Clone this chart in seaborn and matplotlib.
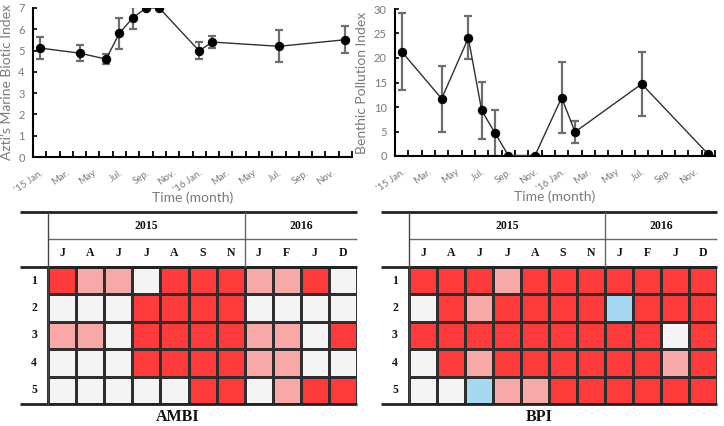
import numpy as np
import pandas as pd
import matplotlib
matplotlib.use('Agg')
import matplotlib.pyplot as plt
import seaborn as sns
from matplotlib.colors import ListedColormap

# ---------------- data ----------------
months_ambi = [0, 3, 5, 6, 7, 8, 9, 12, 13, 18, 23]
ambi_vals = [5.12, 4.88, 4.6, 5.82, 6.53, 7.0, 7.0, 4.99, 5.4, 5.2, 5.51]
ambi_err = [0.53, 0.38, 0.25, 0.73, 0.52, 0, 0, 0.39, 0.27, 0.75, 0.63]

months_bpi = [0, 3, 5, 6, 7, 8, 10, 12, 13, 18, 23]
bpi_vals = [21.3, 11.7, 24.1, 9.3, 4.7, 0.1, 0.1, 11.9, 4.9, 14.7, 0.35]
bpi_err = [7.9, 6.7, 4.4, 5.8, 4.7, 0, 0, 7.3, 2.25, 6.5, 0]

tick_labels = ["\u201915 Jan.", "Mar.", "May", "Jul.", "Sep.", "Nov.",
               "\u201916 Jan.", "Mar.", "May", "Jul.", "Sep.", "Nov."]

col_labels = ['J', 'A', 'J', 'J', 'A', 'S', 'N', 'J', 'F', 'J', 'D']
row_labels = ['1', '2', '3', '4', '5']
years = ['2015', '2016']
# W = good (white), P = pink, R = red, B = blue
ambi_grid = ["RPPWRRRPPRW", "WWWRRRRWWWW", "PPWRRRRPPWR", "WWWRRRRPPWW", "WWWWWRRWPRR"]
bpi_grid = ["RRRPRRRRRRR", "WRPRRRRBRRR", "RRRRRRRRRWR", "WRPRRRRRRPR", "WWBPPRRRRRR"]

# ---------------- style ----------------
sns.set_style('white')
plt.rcParams['font.family'] = ['Lato', 'DejaVu Sans']

W, H = 724, 426
fig = plt.figure(figsize=(W / 100, H / 100), dpi=100)


def px_axes(x0, y0, x1, y1):
    return fig.add_axes([x0 / W, 1 - y1 / H, (x1 - x0) / W, (y1 - y0) / H])


GREY = '#7a7a7a'


def line_panel(ax, months, vals, errs, ymax, ystep, ylabel):
    df = pd.DataFrame({'month': months, 'value': vals, 'err': errs})
    sns.lineplot(data=df, x='month', y='value', ax=ax, color='#303030',
                 linewidth=1.0, marker='o', markersize=6,
                 markerfacecolor='black', markeredgecolor='black', zorder=3)
    e = df[df['err'] > 0]
    ax.errorbar(e['month'], e['value'], yerr=e['err'], fmt='none',
                ecolor='#6e6e6e', elinewidth=1.6, capsize=3, capthick=1.6, zorder=2)
    ax.set_xlim(-0.5, 23.5)
    ax.set_ylim(0, ymax)
    ax.set_xticks(np.arange(0, 23, 2))
    ax.set_xticklabels(tick_labels, rotation=35, ha='right',
                       rotation_mode='anchor', color=GREY, fontsize=7)
    ax.set_xticks(np.arange(0.5, 24, 1), minor=True)
    ax.tick_params(axis='x', which='major', length=0, pad=8)
    ax.tick_params(axis='x', which='minor', direction='in', length=4,
                   width=1.3, color='black', bottom=True)
    ax.set_yticks(np.arange(0, ymax + 0.01, ystep))
    ax.tick_params(axis='y', direction='in', length=3, width=1.2,
                   color='black', labelsize=8, labelcolor=GREY, left=True, pad=6)
    for s in ['top', 'right']:
        ax.spines[s].set_visible(False)
    for s in ['left', 'bottom']:
        ax.spines[s].set_color('black')
        ax.spines[s].set_linewidth(1.5)
    ax.set_xlabel('Time (month)', fontsize=10, color=GREY, labelpad=-2)
    ax.set_ylabel(ylabel, fontsize=10, color=GREY, labelpad=4)


ax1 = px_axes(33, 8, 352, 157)
line_panel(ax1, months_ambi, ambi_vals, ambi_err, 7, 1, 'Azti\u2019s Marine Biotic Index')
ax2 = px_axes(395, 9, 715, 156)
line_panel(ax2, months_bpi, bpi_vals, bpi_err, 30, 5, 'Benthic Pollution Index')

# ---------------- tables ----------------
code = {'W': 0, 'P': 1, 'R': 2, 'B': 3}
cmap = ListedColormap(['#f4f4f4', '#f9a8a8', '#ff3a3a', '#a6d8f2'])
SERIF = ['Liberation Serif', 'DejaVu Serif']


def table_panel(ax, grid, title, title_x):
    mat = pd.DataFrame([[code[c] for c in row] for row in grid],
                       index=row_labels, columns=range(len(col_labels)))
    sns.heatmap(mat, ax=ax, cmap=cmap, vmin=-0.5, vmax=3.5, cbar=False,
                linewidths=1.0, linecolor='#2e2e2e',
                xticklabels=False, yticklabels=False)
    ax.set_xlim(-1, 11)
    ax.set_ylim(5, -2)
    ax.axis('off')
    kw = dict(clip_on=False, solid_capstyle='butt')
    ax.plot([-1, 11], [-2, -2], color='#222222', lw=2.0, **kw)
    ax.plot([-1, 11], [0, 0], color='#222222', lw=2.0, **kw)
    ax.plot([-1, 11], [5, 5], color='#222222', lw=2.0, **kw)
    ax.plot([0, 11], [-1, -1], color='#666666', lw=1.0, **kw)
    ax.plot([0, 0], [-2, 5], color='#444444', lw=1.0, **kw)
    ax.plot([7, 7], [-2, 0], color='#666666', lw=1.0, **kw)
    for i, m in enumerate(col_labels):
        ax.text(i + 0.5, -0.5, m, ha='center', va='center', fontsize=8.5,
                fontweight='bold', family=SERIF, color='#111111')
    for j, r in enumerate(row_labels):
        ax.text(-0.5, j + 0.5, r, ha='center', va='center', fontsize=8.5,
                fontweight='bold', family=SERIF, color='#111111')
    ax.text(3.5, -1.5, years[0], ha='center', va='center', fontsize=8.5,
            fontweight='bold', family=SERIF, color='#111111')
    ax.text(9, -1.5, years[1], ha='center', va='center', fontsize=8.5,
            fontweight='bold', family=SERIF, color='#111111')
    fig.text(title_x / W, 1 - 417 / H, title, ha='center', va='center',
             fontsize=11.5, fontweight='bold', family=SERIF, color='#111111')


ax3 = px_axes(20, 212, 357, 404)
table_panel(ax3, ambi_grid, 'AMBI', 178)
ax4 = px_axes(381, 212, 717, 404)
table_panel(ax4, bpi_grid, 'BPI', 539)

fig.savefig('out.png', dpi=100)
